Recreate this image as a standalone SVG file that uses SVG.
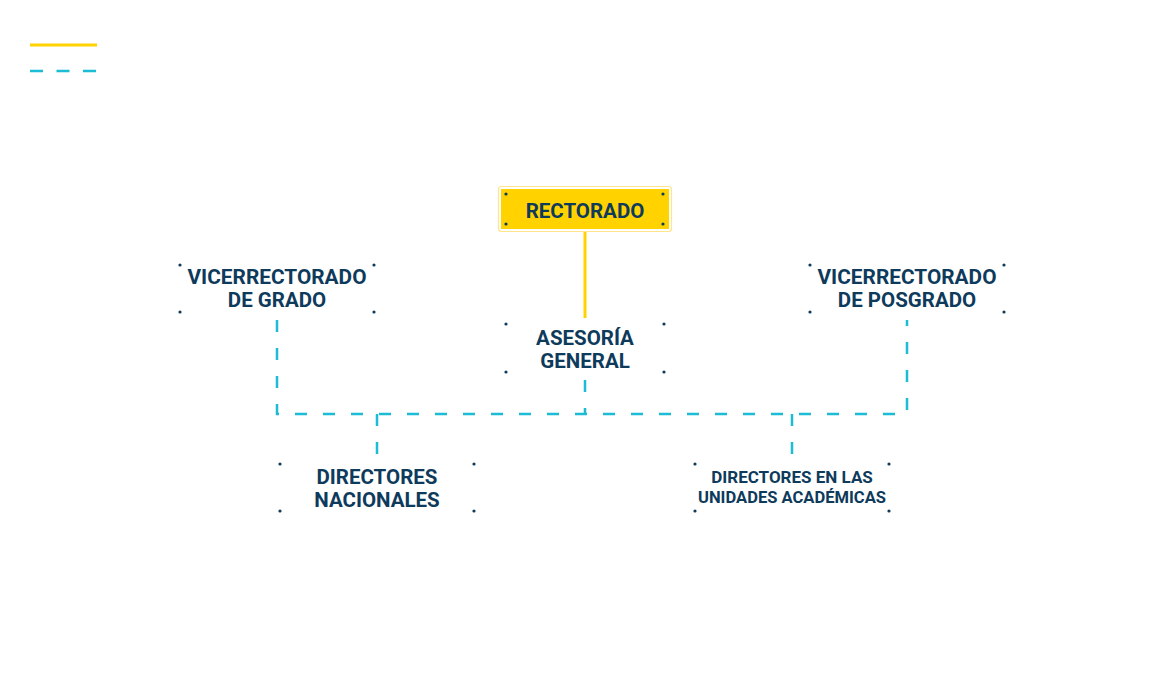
<svg xmlns="http://www.w3.org/2000/svg" width="1170" height="680" viewBox="0 0 1170 680">
<style>
.t{font-family:Roboto,"Liberation Sans",sans-serif;font-weight:700;fill:#0e3a5b;text-anchor:middle;font-size:20.5px}
.s{font-size:17px}
.dot{fill:#0e3a5b}
.dash{fill:none;stroke:#1bbcd4;stroke-width:2.5;stroke-dasharray:12 16}
.solid{fill:none;stroke:#ffd200;stroke-width:3}
</style>
<defs>
<g id="dots4"><circle cx="0" cy="0" r="1.6"/><circle cx="194" cy="0" r="1.6"/><circle cx="0" cy="47" r="1.6"/><circle cx="194" cy="47" r="1.6"/></g>
</defs>
<g id="legend">
<line class="solid" x1="30" y1="45" x2="97" y2="45"/>
<line x1="30" y1="71" x2="97" y2="71" stroke="#1bbcd4" stroke-width="2.5" stroke-dasharray="13 13.5"/>
</g>
<g id="connectors">
<line class="solid" x1="585" y1="229" x2="585" y2="318"/>
<path class="dash" d="M277 320 V414 H907 V320"/>
<line class="dash" x1="585" y1="380" x2="585" y2="414"/>
<line class="dash" x1="377" y1="414" x2="377" y2="458"/>
<line class="dash" x1="792" y1="414" x2="792" y2="458"/>
</g>
<g id="rectorado">
<rect x="498.5" y="186.5" width="173" height="45" rx="3" fill="#fff" stroke="#ffe68a" stroke-width="1.2"/>
<rect x="501" y="189" width="168" height="40" fill="#ffd200"/>
<g class="dot"><circle cx="506" cy="194" r="1.6"/><circle cx="663" cy="194" r="1.6"/><circle cx="506" cy="224" r="1.6"/><circle cx="663" cy="224" r="1.6"/></g>
<text class="t" x="585" y="217.5" font-size="20">RECTORADO</text>
</g>
<g id="vicerrectorado-grado">
<use href="#dots4" class="dot" x="180" y="265"/>
<text class="t" x="277" y="283.5" textLength="179" lengthAdjust="spacingAndGlyphs">VICERRECTORADO</text>
<text class="t" x="277" y="306.5">DE GRADO</text>
</g>
<g id="asesoria-general">
<g class="dot"><circle cx="506" cy="324" r="1.6"/><circle cx="664" cy="324" r="1.6"/><circle cx="506" cy="372" r="1.6"/><circle cx="664" cy="372" r="1.6"/></g>
<text class="t" x="585" y="344.5">ASESORÍA</text>
<text class="t" x="585" y="367.5">GENERAL</text>
</g>
<g id="vicerrectorado-posgrado">
<use href="#dots4" class="dot" x="810" y="265"/>
<text class="t" x="907" y="283.5" textLength="179" lengthAdjust="spacingAndGlyphs">VICERRECTORADO</text>
<text class="t" x="907" y="306.5">DE POSGRADO</text>
</g>
<g id="directores-nacionales">
<use href="#dots4" class="dot" x="280" y="464"/>
<text class="t" x="377" y="483.5">DIRECTORES</text>
<text class="t" x="377" y="506.5">NACIONALES</text>
</g>
<g id="directores-unidades">
<use href="#dots4" class="dot" x="695" y="464"/>
<text class="t s" x="792" y="483">DIRECTORES EN LAS</text>
<text class="t s" x="792" y="503" textLength="188" lengthAdjust="spacingAndGlyphs">UNIDADES ACADÉMICAS</text>
</g>
</svg>
